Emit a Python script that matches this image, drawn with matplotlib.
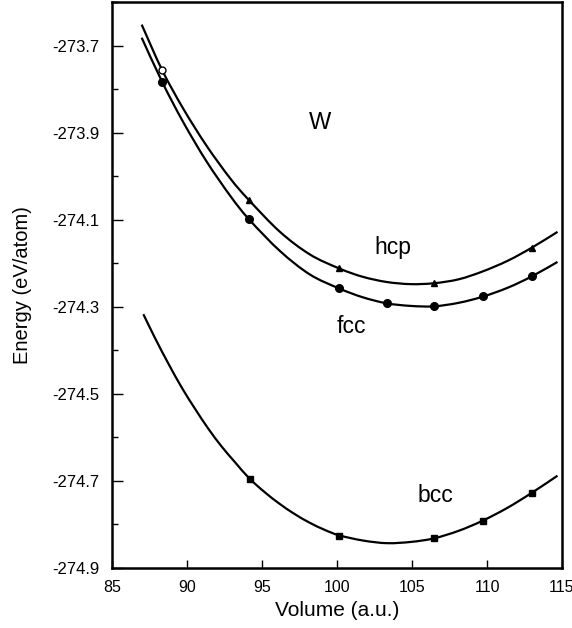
import matplotlib
matplotlib.use("Agg")
import matplotlib.pyplot as plt
from matplotlib.ticker import MultipleLocator
from matplotlib.path import Path
from matplotlib.patches import PathPatch

plt.rcParams['font.family'] = ['Liberation Sans', 'DejaVu Sans']

# ---- data ----
# computed points (markers)
bcc_vol = [94.2, 100.15, 106.45, 109.7, 113.0]
bcc_E = [-274.695, -274.826, -274.832, -274.791, -274.727]

fcc_vol = [88.35, 94.13, 100.15, 103.3, 106.45, 109.7, 113.0]
fcc_E = [-273.784, -274.098, -274.257, -274.292, -274.298, -274.276, -274.229]

hcp_vol = [88.35, 94.13, 100.15, 106.45, 113.0]
hcp_E = [-273.757, -274.054, -274.211, -274.246, -274.164]

# fitted curves
bcc_curve_vol = [87.09, 87.87, 88.75, 89.64, 90.53, 91.42, 92.31, 93.2, 94.15, 95.15,
                 96.15, 97.15, 98.15, 99.15, 100.15, 101.75, 103.35, 104.95, 106.45,
                 108.1, 109.7, 111.35, 113.0, 114.7]
bcc_curve_E = [-274.317, -274.372, -274.430, -274.485, -274.534, -274.580, -274.621,
               -274.657, -274.694, -274.725, -274.752, -274.7755, -274.7955, -274.812,
               -274.825, -274.837, -274.843, -274.840, -274.832, -274.8147, -274.7915,
               -274.762, -274.727, -274.688]

fcc_curve_vol = [86.98, 88.35, 89.75, 91.3, 92.9, 94.13, 96.2, 98.2, 100.15, 101.7,
                 103.3, 104.9, 106.45, 108.1, 109.7, 111.4, 113.0, 114.7]
fcc_curve_E = [-273.682, -273.784, -273.876, -273.966, -274.046, -274.099, -274.172,
               -274.226, -274.258, -274.278, -274.292, -274.298, -274.299, -274.291,
               -274.277, -274.256, -274.230, -274.197]

hcp_curve_vol = [86.98, 88.35, 89.75, 91.3, 92.9, 94.13, 96.2, 98.2, 100.15, 101.7,
                 103.3, 104.9, 106.45, 108.1, 109.7, 111.4, 113.0, 114.7]
hcp_curve_E = [-273.652, -273.757, -273.845, -273.930, -274.006, -274.055, -274.128,
               -274.180, -274.212, -274.231, -274.243, -274.248, -274.246, -274.237,
               -274.219, -274.194, -274.164, -274.128]

x_ticks = [85, 90, 95, 100, 105, 110, 115]
y_ticks = [-274.9, -274.7, -274.5, -274.3, -274.1, -273.9, -273.7]


def smooth_path(xs, ys):
    """Smooth (Catmull-Rom style) Bezier path through the read curve points."""
    pts = list(zip(xs, ys))
    verts = [pts[0]]
    codes = [Path.MOVETO]
    n = len(pts)
    for i in range(n - 1):
        p0 = pts[i - 1] if i > 0 else pts[i]
        p1 = pts[i]
        p2 = pts[i + 1]
        p3 = pts[i + 2] if i + 2 < n else pts[i + 1]
        c1 = (p1[0] + (p2[0] - p0[0]) / 6.0, p1[1] + (p2[1] - p0[1]) / 6.0)
        c2 = (p2[0] - (p3[0] - p1[0]) / 6.0, p2[1] - (p3[1] - p1[1]) / 6.0)
        verts += [c1, c2, p2]
        codes += [Path.CURVE4] * 3
    return Path(verts, codes)


# ---- figure ----
fig = plt.figure(figsize=(5.72, 6.28), dpi=100)
ax = fig.add_axes([112 / 572, 1 - 568 / 628, 450 / 572, 566 / 628])

lw = 1.6
for cx, cy in [(bcc_curve_vol, bcc_curve_E), (fcc_curve_vol, fcc_curve_E),
               (hcp_curve_vol, hcp_curve_E)]:
    ax.add_patch(PathPatch(smooth_path(cx, cy), facecolor='none',
                           edgecolor='black', lw=lw, capstyle='butt'))

ax.plot(bcc_vol, bcc_E, linestyle='none', marker='s', ms=5, color='black')
ax.plot(fcc_vol, fcc_E, linestyle='none', marker='o', ms=5.5, color='black')
ax.plot(hcp_vol[1:], hcp_E[1:], linestyle='none', marker='^', ms=4.5, color='black')
ax.plot(hcp_vol[:1], hcp_E[:1], linestyle='none', marker='o', ms=5,
        markerfacecolor='white', markeredgecolor='black', markeredgewidth=1.0)

ax.set_xlim(85, 115)
ax.set_ylim(-274.9, -273.6)
ax.set_xticks(x_ticks)
ax.set_yticks(y_ticks)
ax.set_xticklabels([str(v) for v in x_ticks])
ax.set_yticklabels([f"{v:.1f}" for v in y_ticks])
ax.yaxis.set_minor_locator(MultipleLocator(0.1))

ax.tick_params(axis='x', which='major', direction='in', length=6, width=1.0,
               labelsize=11.5, pad=9)
ax.tick_params(axis='y', which='major', direction='in', length=8, width=1.0,
               labelsize=12, pad=9)
ax.tick_params(axis='y', which='minor', direction='in', length=4, width=1.0)
for s in ax.spines.values():
    s.set_linewidth(1.8)

ax.set_xlabel('Volume (a.u.)', fontsize=15, labelpad=4)
ax.set_ylabel('Energy (eV/atom)', fontsize=14.5)
ax.yaxis.set_label_coords(-0.178, 0.5)

ax.text(98.87, -273.877, 'W', fontsize=17, ha='center', va='center')
ax.text(103.75, -274.165, 'hcp', fontsize=16.5, ha='center', va='center')
ax.text(100.98, -274.345, 'fcc', fontsize=16.5, ha='center', va='center')
ax.text(106.53, -274.734, 'bcc', fontsize=16.5, ha='center', va='center')

fig.savefig('out.png', dpi=100)
